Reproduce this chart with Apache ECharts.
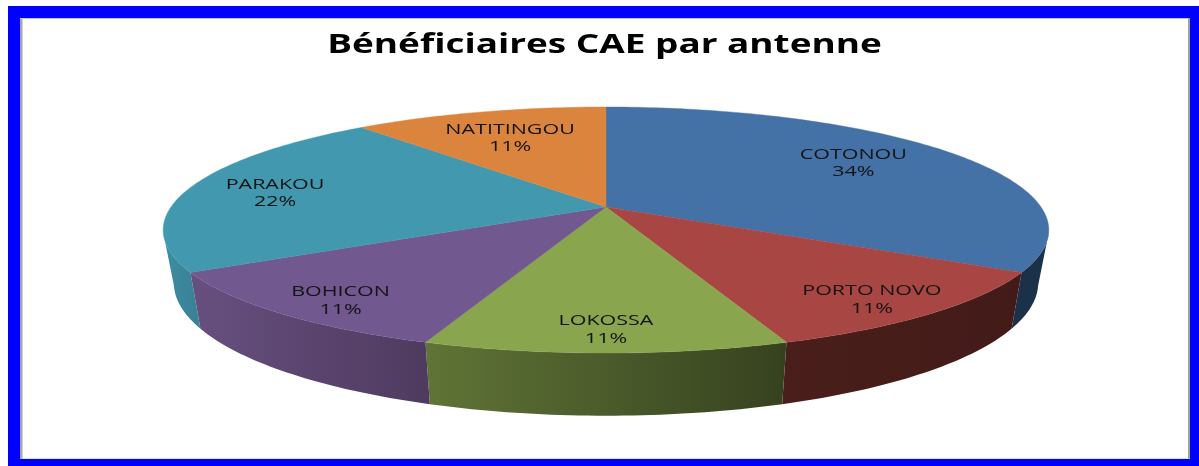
<!DOCTYPE html>
<html>
<head>
<meta charset="utf-8">
<style>html,body{margin:0;padding:0;background:#fff}#c{width:1199px;height:466px}</style>
<script src="https://cdn.jsdelivr.net/npm/echarts@6/dist/echarts.min.js"></script>
</head>
<body>
<div id="c"></div>
<script>
var chartTitle = 'Bénéficiaires CAE par antenne';
var categories = ['COTONOU', 'PORTO NOVO', 'LOKOSSA', 'BOHICON', 'PARAKOU', 'NATITINGOU'];
var sliceShares = [33.3, 11.1, 11.1, 11.1, 22.2, 11.1];
// percentages as printed on the picture
var printedPercents = ['34%', '11%', '11%', '11%', '22%', '11%'];

var topColors = ['#4471A6', '#A84644', '#89A54E', '#71588F', '#4198AF', '#DB843D'];
var wallColors = [['#1B3149', '#1B3149'], ['#4A1F1B', '#421A17'], ['#607436', '#36421F'],
                  ['#67507F', '#4F3A5F'], ['#3D8EA3', '#3A7F95'], ['#000', '#000']];
// where each label sits on the disc: fraction of the radius, and bearing in degrees
var labelReach = [0.726, 0.866, 0.868, 0.871, 0.786, 0.693];
var labelBearing = [57.2, 142, 180, 217.6, 278.5, 339.1];

var P = {cx: 606, cy: 207, a: 118.7, b: 435, k: 0.187, drop: 51, shrink: 0.976, wallFrom: 102, wallTo: 258};
var total = sliceShares.reduce(function (s, v) { return s + v; }, 0);
var edges = [0];
sliceShares.forEach(function (v, i) { edges.push(edges[i] + v / total * 360); });

function project(deg, r, lower) {
  var t = deg * Math.PI / 180, s = Math.sin(t), c = Math.cos(t);
  var w = 1 + P.k * r * c;
  var x = P.b * r * s / w, y = -P.a * r * c / w;
  if (lower) { x *= P.shrink; y += P.drop / w; }
  return [P.cx + x, P.cy + y];
}
function arc(from, to, lower) {
  var pts = [], n = Math.max(2, Math.ceil(Math.abs(to - from)));
  for (var i = 0; i <= n; i++) pts.push(project(from + (to - from) * i / n, 1, lower));
  return pts;
}

function renderWall(params) {
  var i = params.dataIndex;
  var from = Math.max(edges[i], P.wallFrom), to = Math.min(edges[i + 1], P.wallTo);
  if (to <= from) return {type: 'group', children: []};
  var pts = arc(from, to, false).concat(arc(from, to, true).reverse());
  return {
    type: 'polygon',
    shape: {points: pts},
    style: {fill: new echarts.graphic.LinearGradient(0, 0, 1, 0, [
      {offset: 0, color: wallColors[i][0]}, {offset: 1, color: wallColors[i][1]}
    ])}
  };
}
function renderTop(params) {
  var i = params.dataIndex;
  var pts = [project(0, 0, false)].concat(arc(edges[i], edges[i + 1], false));
  return {type: 'polygon', shape: {points: pts}, style: {fill: topColors[i], stroke: topColors[i], lineWidth: 0.4}};
}
function renderLabel(params) {
  var i = params.dataIndex;
  var p = project(labelBearing[i], labelReach[i], false);
  return {
    type: 'text', x: p[0], y: p[1], scaleX: 1.48, scaleY: 1,
    style: {
      text: categories[i] + '\n' + printedPercents[i], align: 'center', verticalAlign: 'middle',
      fontFamily: '"Open Sans"', fontSize: 14.5, lineHeight: 17.5, fill: '#141414'
    }
  };
}

var chart = echarts.init(document.getElementById('c'), null, {renderer: 'canvas'});
function rect(x, y, w, h, fill) {
  return {type: 'rect', shape: {x: x, y: y, width: w, height: h}, style: {fill: fill}, silent: true, z: 50};
}
chart.setOption({
  animation: false,
  backgroundColor: '#ffffff',
  graphic: [
    rect(20, 18, 2.5, 441, '#a6a6a6'), rect(20, 18, 1170, 1, '#c4c4c4'),
    rect(1188, 18, 2, 441, '#a0a0a0'), rect(20, 458.5, 1170, 1, '#c4c4c4'),
    rect(8, 6, 1191, 12, '#0000ff'), rect(8, 6, 12, 460, '#0000ff'),
    rect(1190, 6, 9, 460, '#0000ff'), rect(8, 459, 1191, 7, '#0000ff'),
    {type: 'text', x: 604.5, y: 46, scaleX: 1.42, z: 60, silent: true,
     style: {text: chartTitle, align: 'center', verticalAlign: 'middle',
             fontFamily: '"Open Sans"', fontWeight: 'bold', fontSize: 26, fill: '#000'}}
  ],
  series: [
    {type: 'custom', coordinateSystem: 'none', silent: true, z: 1, data: sliceShares, renderItem: renderWall},
    {type: 'custom', coordinateSystem: 'none', silent: true, z: 2, data: sliceShares, renderItem: renderTop},
    {type: 'custom', coordinateSystem: 'none', silent: true, z: 3, data: sliceShares, renderItem: renderLabel}
  ]
});
</script>
</body>
</html>
